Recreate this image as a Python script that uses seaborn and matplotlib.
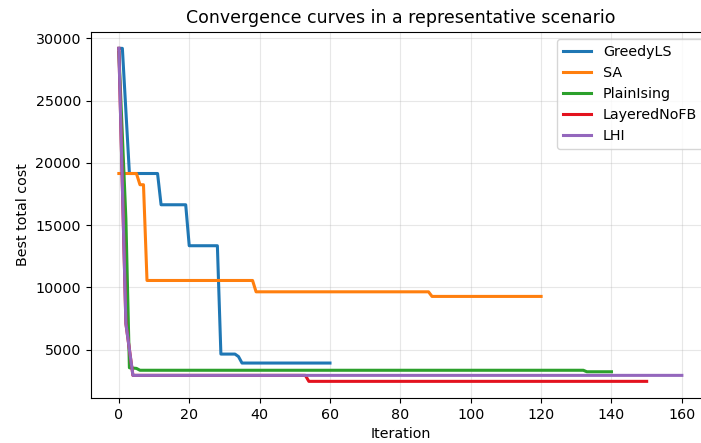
import matplotlib
matplotlib.use("Agg")
import matplotlib.pyplot as plt
import seaborn as sns
import pandas as pd

# Vertices of each convergence curve (iteration, best total cost)
greedy_it   = [0, 1, 3, 11, 12, 19, 20, 28, 29, 33, 34, 35, 60]
greedy_cost = [29200, 29200, 19150, 19150, 16640, 16640, 13350, 13350, 4650, 4650, 4450, 3930, 3930]

sa_it   = [0, 5, 6, 7, 8, 38, 39, 88, 89, 120]
sa_cost = [19150, 19150, 18250, 18250, 10560, 10560, 9650, 9650, 9280, 9280]

plain_it   = [0, 2, 3, 5, 6, 132, 133, 140]
plain_cost = [28900, 15500, 3550, 3500, 3350, 3350, 3230, 3230]

layered_it   = [0, 2, 4, 53, 54, 150]
layered_cost = [29200, 7100, 2940, 2940, 2460, 2460]

lhi_it   = [0, 2, 4, 160]
lhi_cost = [29200, 7100, 2940, 2940]

methods = ["GreedyLS", "SA", "PlainIsing", "LayeredNoFB", "LHI"]
colors = ["#1f77b4", "#ff7f0e", "#2ca02c", "#e3121e", "#9467bd"]

series = [(greedy_it, greedy_cost), (sa_it, sa_cost), (plain_it, plain_cost),
          (layered_it, layered_cost), (lhi_it, lhi_cost)]
frames = []
for name, (its, costs) in zip(methods, series):
    frames.append(pd.DataFrame({"Iteration": its, "Best total cost": costs, "Method": name}))
df = pd.concat(frames, ignore_index=True)

plt.rcParams["font.family"] = ["DejaVu Sans"]
plt.rcParams["font.size"] = 10.3
fig = plt.figure(figsize=(7.01, 4.43), dpi=100)
ax = fig.add_axes([90.7 / 701, 45 / 443, (710 - 90.7) / 701, (398 - 31.7) / 443])

sns.lineplot(data=df, x="Iteration", y="Best total cost", hue="Method",
             hue_order=methods, palette=colors, estimator=None, sort=False,
             linewidth=2.2, ax=ax)

for side in ["top", "right", "left", "bottom"]:
    ax.spines[side].set_visible(True)
ax.grid(True, alpha=0.3)
ax.set_title("Convergence curves in a representative scenario", fontsize=12.5)
ax.set_xlabel("Iteration")
ax.set_ylabel("Best total cost")
ax.set_xticks([0, 20, 40, 60, 80, 100, 120, 140, 160])
ax.set_yticks([5000, 10000, 15000, 20000, 25000, 30000])
ax.legend(loc="upper right", title=None)

fig.savefig("out.png", dpi=100)
